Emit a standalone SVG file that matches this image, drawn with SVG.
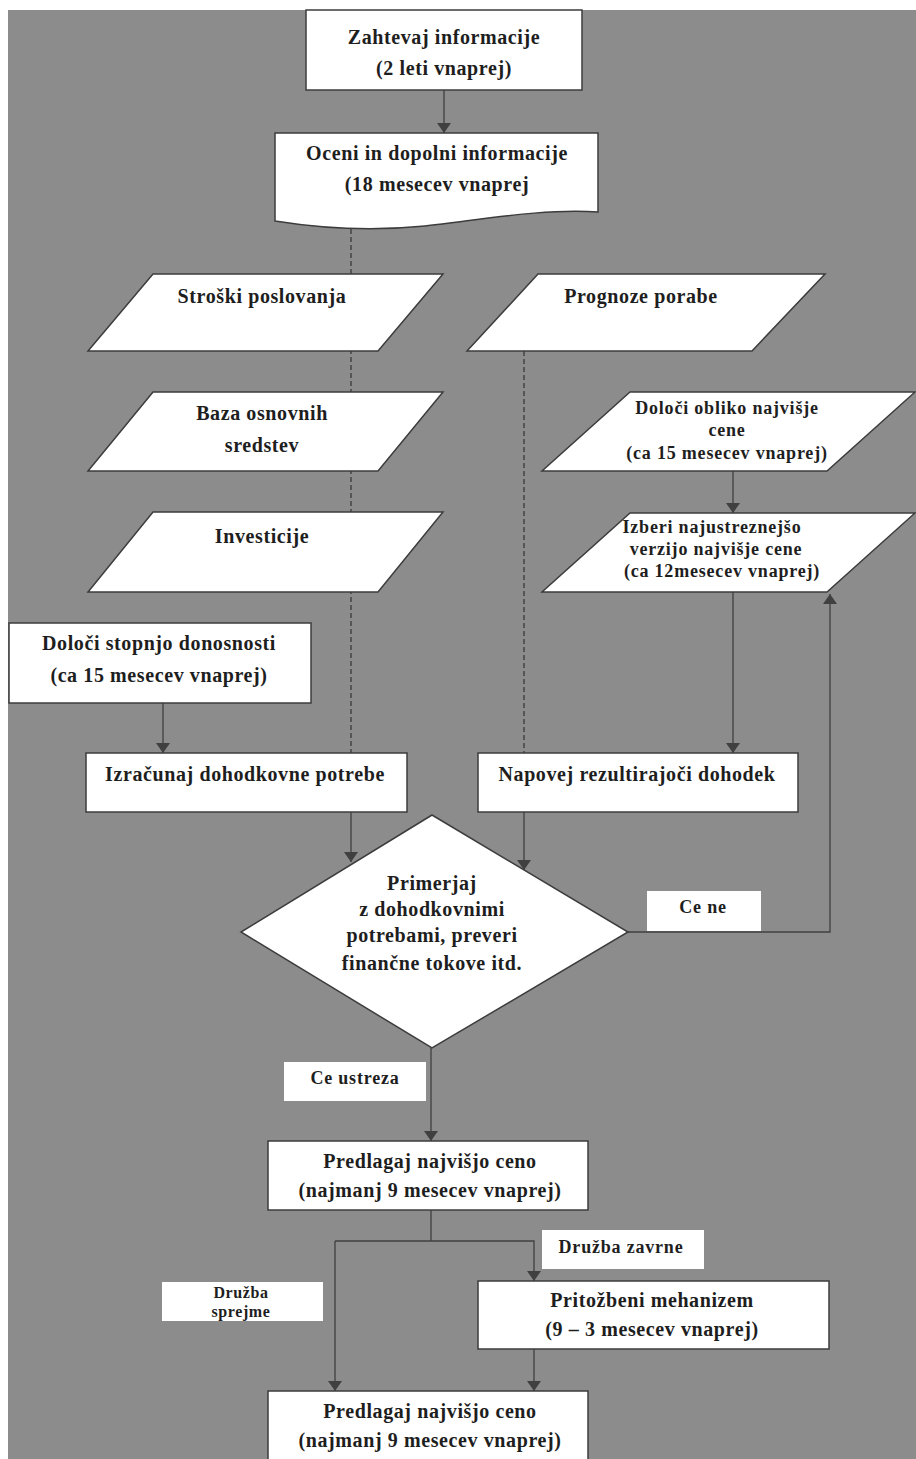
<svg xmlns="http://www.w3.org/2000/svg" width="916" height="1459" viewBox="0 0 916 1459">
<defs>
<style>
.bg{fill:#8c8c8c}
.box{fill:#ffffff;stroke:#3c3c3c;stroke-width:1.5}
.lbl{fill:#ffffff;stroke:none}
.t{font-family:"Liberation Serif","Times New Roman",serif;font-weight:bold;font-size:20px;letter-spacing:0.6px;fill:#1e1e1e;text-anchor:middle}
.s{font-size:18px;letter-spacing:0.8px}
.xs{font-size:16px;letter-spacing:0.6px}
.ln{fill:none;stroke:#404040;stroke-width:1.3}
.dash{fill:none;stroke:#333333;stroke-width:1.2;stroke-dasharray:5 3}
</style>
<marker id="ah" viewBox="0 0 10 14" refX="10" refY="7" markerWidth="10" markerHeight="14" markerUnits="userSpaceOnUse" orient="auto">
<path d="M0,0 L10,7 L0,14 Z" fill="#404040"/>
</marker>
</defs>
<rect width="916" height="1459" fill="#ffffff"/>
<rect class="bg" x="8" y="10" width="908" height="1449"/>

<g id="connectors">
<line class="ln" x1="444" y1="90" x2="444" y2="133" marker-end="url(#ah)"/>
<line class="dash" x1="351" y1="229" x2="351" y2="753"/>
<line class="dash" x1="524" y1="351" x2="524" y2="753"/>
<line class="ln" x1="733" y1="471" x2="733" y2="513" marker-end="url(#ah)"/>
<line class="ln" x1="733" y1="592" x2="733" y2="753" marker-end="url(#ah)"/>
<line class="ln" x1="163" y1="703" x2="163" y2="753" marker-end="url(#ah)"/>
<line class="ln" x1="351" y1="812" x2="351" y2="862" marker-end="url(#ah)"/>
<line class="ln" x1="524" y1="812" x2="524" y2="870" marker-end="url(#ah)"/>
<polyline class="ln" points="628,932 830,932 830,594" marker-end="url(#ah)"/>
<line class="ln" x1="431" y1="1048" x2="431" y2="1141" marker-end="url(#ah)"/>
<polyline class="ln" points="431,1210 431,1241"/>
<polyline class="ln" points="335,1241 534,1241 534,1281" marker-end="url(#ah)"/>
<line class="ln" x1="335" y1="1241" x2="335" y2="1391" marker-end="url(#ah)"/>
<line class="ln" x1="534" y1="1349" x2="534" y2="1391" marker-end="url(#ah)"/>
</g>

<g id="n1">
<rect class="box" x="306" y="10" width="276" height="80"/>
<text class="t" x="444" y="44">Zahtevaj informacije</text>
<text class="t" x="444" y="75">(2 leti vnaprej)</text>
</g>

<g id="n2">
<path class="box" d="M275,133 H598 V212 C545,208 480,220 425,226 C375,231 325,229 275,221 Z"/>
<text class="t" x="437" y="160">Oceni in dopolni informacije</text>
<text class="t" x="437" y="191">(18 mesecev vnaprej</text>
</g>

<g id="n3">
<polygon class="box" points="153,274 443,274 378,351 88,351"/>
<text class="t" x="262" y="303">Stroški poslovanja</text>
</g>

<g id="n4">
<polygon class="box" points="538,274 825,274 752,351 467,351"/>
<text class="t" x="641" y="303">Prognoze porabe</text>
</g>

<g id="n5">
<polygon class="box" points="153,392 443,392 378,471 88,471"/>
<text class="t" x="262" y="420">Baza osnovnih</text>
<text class="t" x="262" y="452">sredstev</text>
</g>

<g id="n6">
<polygon class="box" points="153,512 443,512 378,592 88,592"/>
<text class="t" x="262" y="543">Investicije</text>
</g>

<g id="n7">
<polygon class="box" points="630,392 915,392 827,471 542,471"/>
<text class="t s" x="727" y="414">Določi obliko najvišje</text>
<text class="t s" x="727" y="436">cene</text>
<text class="t s" x="727" y="459">(ca 15 mesecev vnaprej)</text>
</g>

<g id="n8">
<polygon class="box" points="630,513 915,513 827,592 542,592"/>
<text class="t s" x="712" y="533">Izberi najustreznejšo</text>
<text class="t s" x="716" y="555">verzijo najvišje cene</text>
<text class="t s" x="722" y="577">(ca 12mesecev vnaprej)</text>
</g>

<g id="n9">
<rect class="box" x="9" y="623" width="302" height="80"/>
<text class="t" x="159" y="650">Določi stopnjo donosnosti</text>
<text class="t" x="159" y="682">(ca 15 mesecev vnaprej)</text>
</g>

<g id="n10">
<rect class="box" x="86" y="753" width="321" height="59"/>
<text class="t" x="245" y="781">Izračunaj dohodkovne potrebe</text>
</g>

<g id="n11">
<rect class="box" x="478" y="753" width="320" height="59"/>
<text class="t" x="637" y="781">Napovej rezultirajoči dohodek</text>
</g>

<g id="n12">
<polygon class="box" points="432,815 628,932 432,1048 241,932"/>
<text class="t" x="432" y="890">Primerjaj</text>
<text class="t" x="432" y="916">z dohodkovnimi</text>
<text class="t" x="432" y="942">potrebami, preveri</text>
<text class="t" x="432" y="970">finančne tokove itd.</text>
</g>

<g id="lbl-cene">
<rect class="lbl" x="647" y="891" width="114" height="40"/>
<text class="t s" x="703" y="913">Ce ne</text>
</g>

<g id="lbl-ceustreza">
<rect class="lbl" x="284" y="1062" width="142" height="39"/>
<text class="t s" x="355" y="1084">Ce ustreza</text>
</g>

<g id="n13">
<rect class="box" x="268" y="1141" width="320" height="69"/>
<text class="t" x="430" y="1168">Predlagaj najvišjo ceno</text>
<text class="t" x="430" y="1197">(najmanj 9 mesecev vnaprej)</text>
</g>

<g id="lbl-zavrne">
<rect class="lbl" x="542" y="1230" width="162" height="39"/>
<text class="t s" x="621" y="1253" font-weight="normal">Družba zavrne</text>
</g>

<g id="lbl-sprejme">
<rect class="lbl" x="162" y="1282" width="161" height="39"/>
<text class="t xs" x="241" y="1298">Družba</text>
<text class="t xs" x="241" y="1317">sprejme</text>
</g>

<g id="n14">
<rect class="box" x="478" y="1281" width="351" height="68"/>
<text class="t" x="652" y="1307">Pritožbeni mehanizem</text>
<text class="t" x="652" y="1336">(9 – 3 mesecev vnaprej)</text>
</g>

<g id="n15">
<rect class="box" x="268" y="1391" width="320" height="80"/>
<text class="t" x="430" y="1418">Predlagaj najvišjo ceno</text>
<text class="t" x="430" y="1447">(najmanj 9 mesecev vnaprej)</text>
</g>
</svg>
